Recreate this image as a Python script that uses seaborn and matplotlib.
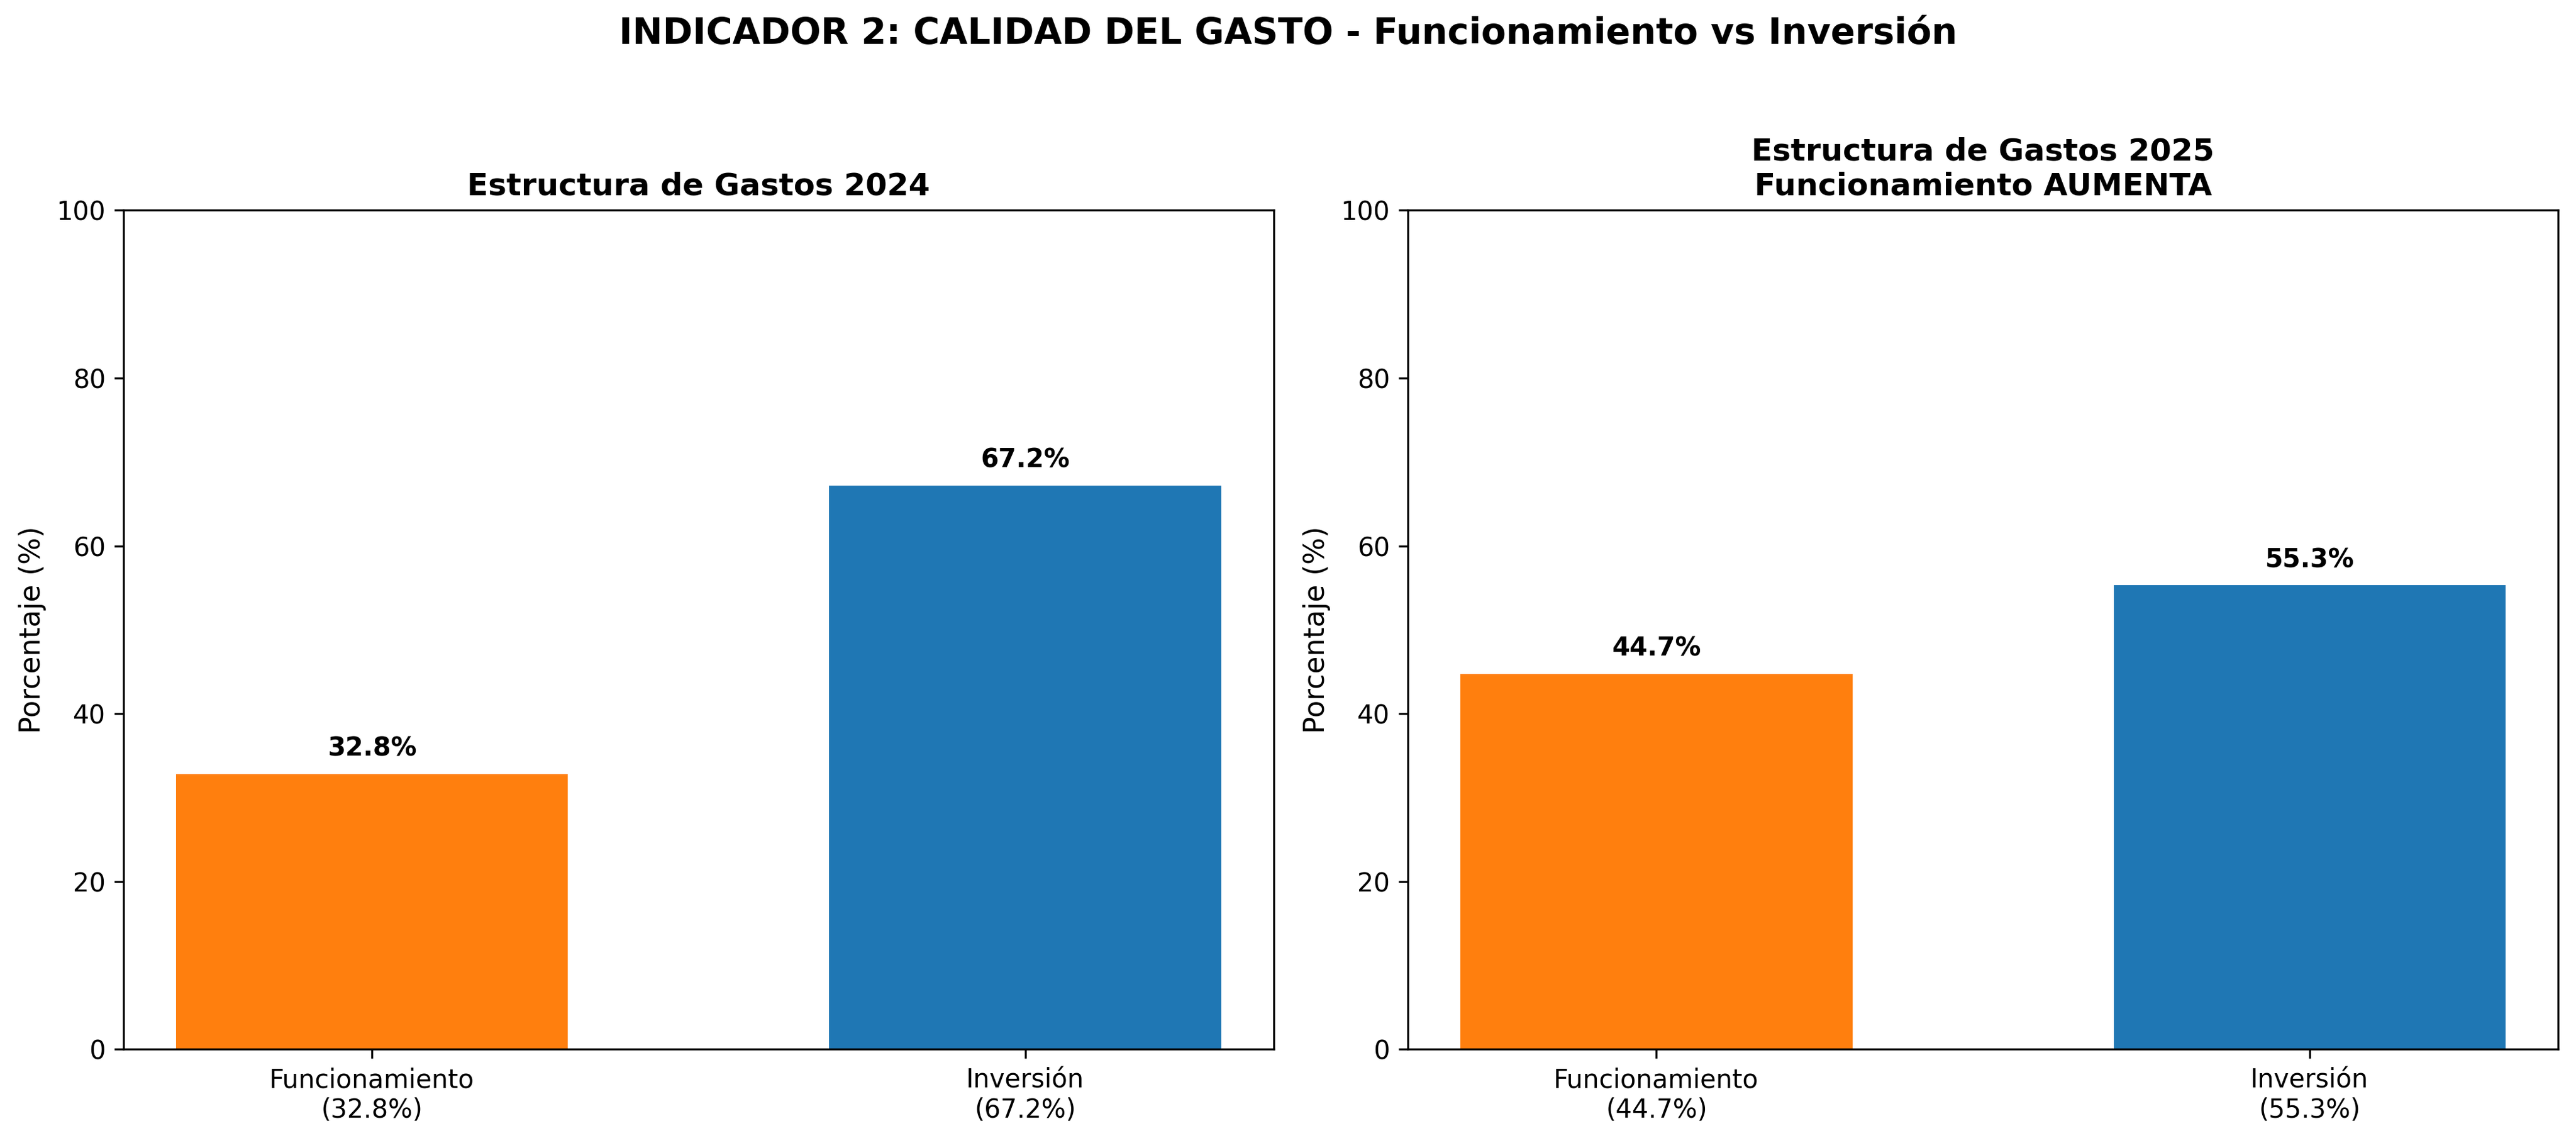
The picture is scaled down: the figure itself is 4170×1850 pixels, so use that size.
import matplotlib
matplotlib.use('Agg')
import matplotlib.pyplot as plt
import pandas as pd
import seaborn as sns

# data
categorias = ['Funcionamiento', 'Inversión']
pct_2024 = [32.8, 67.2]
pct_2025 = [44.7, 55.3]
titulos = ['Estructura de Gastos 2024', 'Estructura de Gastos 2025\nFuncionamiento AUMENTA']
colores = {'Funcionamiento': '#ff7f0e', 'Inversión': '#1f77b4'}

fig, axes = plt.subplots(1, 2, figsize=(13.9, 6.1667), dpi=300)
fig.subplots_adjust(left=0.048, right=0.993, bottom=0.082, top=0.816, wspace=0.117)

for ax, vals, titulo in zip(axes, [pct_2024, pct_2025], titulos):
    df = pd.DataFrame({'Categoria': categorias, 'Pct': vals})
    sns.barplot(data=df, x='Categoria', y='Pct', hue='Categoria', palette=colores,
                width=0.6, saturation=1, legend=False, ax=ax)
    for i, v in enumerate(vals):
        ax.text(i, v + 1.5, f'{v:.1f}%', ha='center', va='bottom', fontsize=10, fontweight='bold')
    ax.set_xticks(range(len(categorias)))
    ax.set_xticklabels([f'{c}\n({v:.1f}%)' for c, v in zip(categorias, vals)], fontsize=10)
    ax.set_xlim(-0.38, 1.38)
    ax.set_ylim(0, 100)
    ax.set_xlabel('')
    ax.set_ylabel('Porcentaje (%)', fontsize=11)
    ax.set_title(titulo, fontsize=12, fontweight='bold')

fig.suptitle('INDICADOR 2: CALIDAD DEL GASTO - Funcionamiento vs Inversión',
             fontsize=14, fontweight='bold', y=0.986)
fig.savefig('out.png', dpi=300)
